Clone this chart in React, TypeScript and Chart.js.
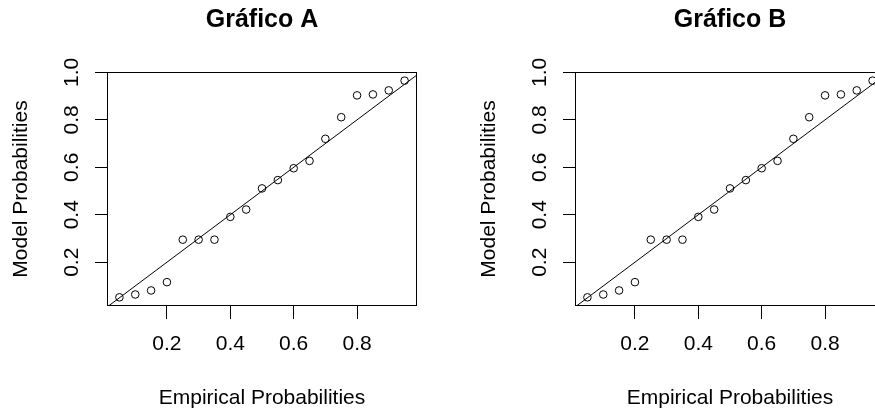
import { useEffect, useRef } from "react";
import { Chart, registerables } from "chart.js";

Chart.register(...registerables);

// ---- data ----
const empirical = [0.05, 0.1, 0.15, 0.2, 0.25, 0.3, 0.35, 0.4, 0.45, 0.5, 0.55, 0.6, 0.65, 0.7, 0.75, 0.8, 0.85, 0.9, 0.95];
const model = [0.052, 0.064, 0.081, 0.116, 0.295, 0.295, 0.295, 0.391, 0.422, 0.511, 0.546, 0.596, 0.627, 0.72, 0.811, 0.903, 0.907, 0.924, 0.965];
const refLineX = [0, 1];
const refLineY = [0, 1];
const xTicks = [0.2, 0.4, 0.6, 0.8];
const yTicks = [0.2, 0.4, 0.6, 0.8, 1.0];
const titles = ["Gráfico A", "Gráfico B"];
const xLabel = "Empirical Probabilities";
const yLabel = "Model Probabilities";
const xRange = [0.014, 0.986];
const yRange = [0.0155, 1.0015];

const FAMILY = "'Liberation Sans', Arial, Helvetica, sans-serif";

const boxPlugin = {
  id: "rbox",
  afterDraw(chart: any) {
    const { ctx, chartArea: a } = chart;
    ctx.save();
    ctx.strokeStyle = "#000";
    ctx.lineWidth = 1;
    const l = Math.round(a.left) - 0.5;
    const t = Math.round(a.top) + 0.5;
    const r = Math.round(a.right) + 0.5;
    const b = Math.round(a.bottom) - 0.5;
    ctx.strokeRect(l, t, r - l, b - t);
    ctx.restore();
  },
};

function Panel({ title }: { title: string }) {
  const ref = useRef<HTMLCanvasElement>(null);
  useEffect(() => {
    const chart = new Chart(ref.current as HTMLCanvasElement, {
      type: "scatter",
      data: {
        datasets: [
          {
            type: "line",
            data: refLineX.map((x, i) => ({ x, y: refLineY[i] })),
            borderColor: "#000",
            borderWidth: 1,
            pointRadius: 0,
            showLine: true,
            fill: false,
            tension: 0,
          } as any,
          {
            type: "scatter",
            data: empirical.map((x, i) => ({ x, y: model[i] })),
            borderColor: "#000",
            backgroundColor: "rgba(0,0,0,0)",
            borderWidth: 1,
            pointRadius: 3.8,
            pointHoverRadius: 3.8,
          } as any,
        ],
      },
      options: {
        animation: false,
        responsive: false,
        devicePixelRatio: 1,
        events: [],
        layout: { padding: { left: 0, right: 53, top: 0, bottom: 0 } },
        plugins: {
          legend: { display: false },
          tooltip: { enabled: false },
          title: {
            display: true,
            fullSize: false,
            text: title,
            color: "#000",
            font: { family: FAMILY, size: 25, weight: "bold", lineHeight: 1.2 },
            padding: { top: 5.5, bottom: 36.5 },
          },
        },
        scales: {
          x: {
            type: "linear",
            position: "bottom",
            min: xRange[0],
            max: xRange[1],
            afterBuildTicks: (s: any) => {
              s.ticks = xTicks.map((v) => ({ value: v }));
            },
            afterFit: (s: any) => {
              s.height = 106;
            },
            ticks: {
              color: "#000",
              font: { family: FAMILY, size: 21 },
              padding: 12.8,
              autoSkip: false,
              minRotation: 0,
              maxRotation: 0,
              callback: (v: any) => Number(v).toFixed(1),
            },
            grid: { drawOnChartArea: false, drawTicks: true, tickLength: 13, color: "#000", lineWidth: 1 },
            border: { display: false },
            title: {
              display: true,
              text: xLabel,
              color: "#000",
              font: { family: FAMILY, size: 21 },
              padding: { top: 0, bottom: 0.7 },
            },
          },
          y: {
            type: "linear",
            position: "left",
            min: yRange[0],
            max: yRange[1],
            afterBuildTicks: (s: any) => {
              s.ticks = yTicks.map((v) => ({ value: v }));
            },
            afterFit: (s: any) => {
              s.width = 108;
            },
            ticks: {
              color: "#000",
              font: { family: FAMILY, size: 21 },
              padding: 8.4,
              autoSkip: false,
              minRotation: 90,
              maxRotation: 90,
              crossAlign: "center",
              callback: (v: any) => Number(v).toFixed(1),
            },
            grid: { drawOnChartArea: false, drawTicks: true, tickLength: 13, color: "#000", lineWidth: 1 },
            border: { display: false },
            title: {
              display: true,
              text: yLabel,
              color: "#000",
              font: { family: FAMILY, size: 21 },
              padding: { top: 8.4, bottom: 0 },
            },
          },
        },
      } as any,
      plugins: [boxPlugin],
    });
    return () => chart.destroy();
  }, [title]);
  return <canvas ref={ref} width={469} height={412} style={{ display: "block", width: 469, height: 412 }} />;
}

export default function App() {
  return (
    <div
      style={{
        position: "fixed",
        left: 0,
        top: 0,
        width: 875,
        height: 412,
        overflow: "hidden",
        background: "#fff",
      }}
    >
      <div style={{ position: "absolute", left: 0, top: 0 }}>
        <Panel title={titles[0]} />
      </div>
      <div style={{ position: "absolute", left: 468, top: 0 }}>
        <Panel title={titles[1]} />
      </div>
    </div>
  );
}
